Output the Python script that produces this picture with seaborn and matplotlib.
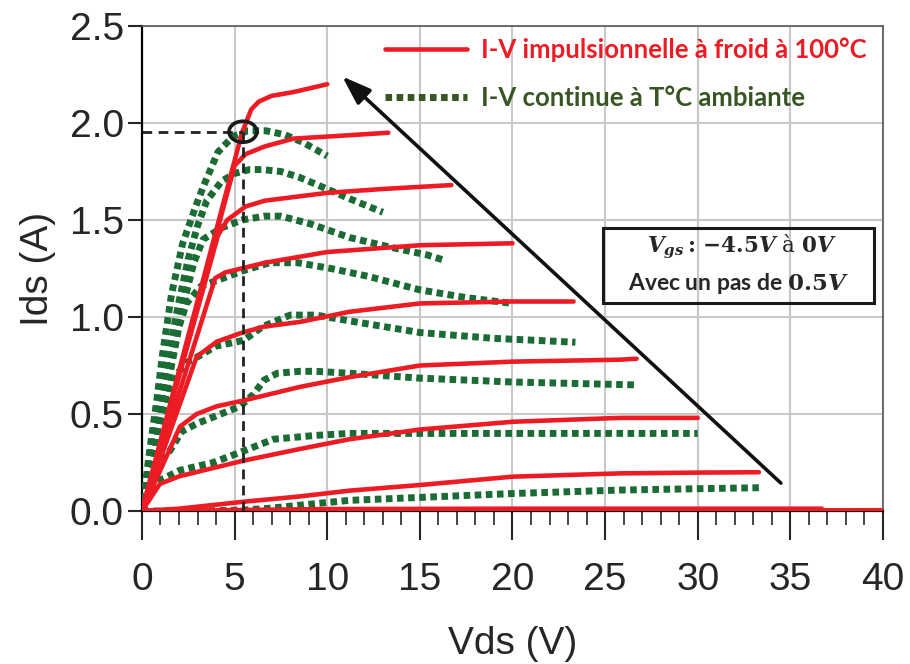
import pandas as pd
import matplotlib
matplotlib.use("Agg")
import matplotlib.pyplot as plt
import seaborn as sns
from matplotlib.lines import Line2D
from matplotlib.patches import Ellipse, Rectangle

# Vgs steps, from 0 V down to -4.5 V
vgs = [0.0, -0.5, -1.0, -1.5, -2.0, -2.5, -3.0, -3.5, -4.0, -4.5]

# pulsed I-V at 100 C (red, solid)
red_vds = [
	[0, 5.4, 5.9, 6.3, 7.0, 8.2, 10.0],
	[0, 5.0, 5.6, 6.65, 8.2, 10.0, 13.3],
	[0, 4.1, 4.6, 5.6, 6.65, 10.0, 13.0, 16.7],
	[0, 3.95, 4.5, 6.65, 10.0, 15.0, 20.0],
	[0, 2.95, 4.04, 5.3, 6.56, 8.54, 11.2, 15.0, 20.0, 23.3],
	[0, 2.05, 2.95, 4.04, 5.5, 8.54, 11.2, 15.0, 20.0, 25.8, 26.7],
	[0, 0.97, 2.05, 5.5, 8.54, 11.2, 15.0, 20.0, 25.8, 30.0],
	[0, 2.0, 5.5, 8.5, 11.2, 15.0, 20.0, 25.8, 30.0, 33.3],
	[0, 10.0, 20.0, 36.7],
	[0, 40.0],
]
red_ids = [
	[0, 1.95, 2.07, 2.11, 2.14, 2.16, 2.20],
	[0, 1.78, 1.84, 1.88, 1.92, 1.93, 1.95],
	[0, 1.42, 1.50, 1.57, 1.60, 1.64, 1.66, 1.68],
	[0, 1.20, 1.23, 1.28, 1.335, 1.37, 1.38],
	[0, 0.795, 0.873, 0.916, 0.95, 0.975, 1.027, 1.07, 1.08, 1.08],
	[0, 0.435, 0.50, 0.54, 0.57, 0.64, 0.69, 0.75, 0.77, 0.78, 0.785],
	[0, 0.14, 0.18, 0.26, 0.32, 0.37, 0.42, 0.46, 0.48, 0.48],
	[0, 0.012, 0.048, 0.075, 0.105, 0.134, 0.177, 0.194, 0.198, 0.20],
	[0, 0.01, 0.012, 0.012],
	[0, 0.004],
]

# DC I-V at ambient temperature (green, dotted)
green_vds = [
	[0, 0.4, 0.8, 1.1, 1.6, 2.2, 2.9, 3.3, 4.1, 4.9, 5.7, 6.7, 7.7, 8.7, 10.0],
	[0, 0.5, 1.0, 1.5, 2.0, 2.5, 3.0, 3.5, 4.3, 5.0, 5.8, 6.5, 7.5, 8.5, 9.5, 11.2, 13.0],
	[0, 0.6, 1.2, 1.7, 2.2, 2.8, 3.3, 4.3, 5.4, 6.6, 7.5, 9.1, 11.2, 13.4, 15.4, 16.4],
	[0, 0.6, 1.2, 1.7, 2.0, 2.4, 3.2, 4.1, 5.5, 6.9, 8.4, 10.2, 12.2, 15.0, 17.5, 20.0],
	[0, 0.5, 1.0, 1.5, 2.0, 2.5, 3.1, 4.0, 5.5, 6.5, 8.0, 9.4, 11.2, 15.0, 19.0, 23.4],
	[0, 0.4, 0.8, 1.5, 2.15, 2.95, 4.0, 5.3, 6.0, 6.6, 7.3, 8.5, 9.4, 11.2, 15.0, 20.0, 26.7],
	[0, 0.6, 1.0, 2.05, 3.85, 5.5, 7.1, 9.4, 11.2, 15.0, 20.0, 25.0, 30.0],
	[0, 3.0, 5.5, 7.0, 8.5, 11.2, 15.0, 20.0, 25.8, 30.0, 33.3],
	[0, 36.7],
	[0, 40.0],
]
green_ids = [
	[0, 0.30, 0.57, 0.80, 1.12, 1.38, 1.57, 1.67, 1.85, 1.93, 1.96, 1.96, 1.94, 1.90, 1.83],
	[0, 0.30, 0.58, 0.84, 1.08, 1.30, 1.47, 1.60, 1.70, 1.74, 1.76, 1.76, 1.75, 1.72, 1.68, 1.61, 1.54],
	[0, 0.30, 0.60, 0.83, 1.05, 1.28, 1.40, 1.46, 1.50, 1.52, 1.52, 1.48, 1.41, 1.36, 1.32, 1.29],
	[0, 0.28, 0.56, 0.80, 0.95, 1.07, 1.16, 1.19, 1.24, 1.28, 1.28, 1.25, 1.21, 1.14, 1.10, 1.07],
	[0, 0.25, 0.47, 0.62, 0.72, 0.77, 0.80, 0.85, 0.88, 0.95, 1.01, 1.01, 0.98, 0.92, 0.89, 0.87],
	[0, 0.15, 0.25, 0.31, 0.41, 0.45, 0.49, 0.54, 0.60, 0.675, 0.71, 0.72, 0.72, 0.71, 0.685, 0.665, 0.65],
	[0, 0.11, 0.16, 0.21, 0.25, 0.31, 0.37, 0.39, 0.40, 0.40, 0.40, 0.40, 0.40],
	[0, 0.0, 0.005, 0.015, 0.03, 0.055, 0.07, 0.09, 0.108, 0.115, 0.12],
	[0, 0.0],
	[0, 0.0],
]

# operating point marked on the chart
op_vds = 5.45
op_ids = 1.955

RED = "#ED1C24"
GREEN = "#1B6B35"
GREEN_TXT = "#375623"


def to_frame(vds_list, ids_list):
	rows = []
	for g, xs, ys in zip(vgs, vds_list, ids_list):
		for k, (x, y) in enumerate(zip(xs, ys)):
			rows.append({"vgs": g, "k": k, "vds": x, "ids": y})
	return pd.DataFrame(rows)


df_red = to_frame(red_vds, red_ids)
df_green = to_frame(green_vds, green_ids)

sns.set_style("white")
plt.rcParams["font.family"] = ["Liberation Sans", "DejaVu Sans"]
plt.rcParams["mathtext.fontset"] = "dejavuserif"

fig = plt.figure(figsize=(9.1, 6.64), dpi=100)
ax = fig.add_axes([0.156, 0.2304, 0.8143, 0.7304])

sns.lineplot(data=df_green, x="vds", y="ids", units="vgs", estimator=None, sort=False,
			 color=GREEN, lw=5, linestyle=(0, (0.95, 0.65)), legend=False, ax=ax, zorder=3)
sns.lineplot(data=df_red, x="vds", y="ids", units="vgs", estimator=None, sort=False,
			 color=RED, lw=3.3, legend=False, ax=ax, zorder=4)

# dashed guides to the marked point
ax.plot([0, op_vds], [op_ids, op_ids], color="#222222", lw=2, ls=(0, (3.5, 2.3)), zorder=6)
ax.plot([op_vds, op_vds], [0, op_ids], color="#222222", lw=2, ls=(0, (3.5, 2.3)), zorder=6)
ax.add_patch(Ellipse((op_vds, op_ids), 1.5, 0.108, fill=False, ec="#1a1a1a", lw=2.6, zorder=7))

# arrow showing Vgs increase
ax.annotate("", xy=(10.7, 2.25), xytext=(34.6, 0.134),
			arrowprops=dict(arrowstyle="-|>,head_length=0.8,head_width=0.28",
							mutation_scale=22, color="#111111", lw=2.6), zorder=8)

# Vgs info box
ax.add_patch(Rectangle((24.9, 1.07), 14.6, 0.39, fill=False, ec="#1a1a1a", lw=2.2, zorder=8))
ax.text(32.4, 1.36, r"$\mathbfit{V_{gs}}\mathbf{:}\,\mathbf{-4.5}\mathbfit{V}$ à $\mathbf{0}\mathbfit{V}$",
		ha="center", va="center", fontsize=15.5, family=["DejaVu Serif"], zorder=9)
ax.text(32.2, 1.172, r"Avec un pas de $\mathbf{0.5}\mathbfit{V}$",
		ha="center", va="center", fontsize=16.5, fontweight="bold", family=["Lato", "DejaVu Sans"], zorder=9)

ax.set_xlim(0, 40)
ax.set_ylim(0, 2.5)
ax.set_xticks(range(0, 41, 5))
ax.set_xticks(range(0, 41, 1), minor=True)
ax.set_yticks([0, 0.5, 1.0, 1.5, 2.0, 2.5])
ax.set_yticklabels(["0.0", "0.5", "1.0", "1.5", "2.0", "2.5"])
ax.grid(True, which="major", color="#c8c8c8", lw=1.5)
ax.set_axisbelow(True)

ax.tick_params(axis="x", which="major", direction="out", length=21, width=1.5, pad=16, labelsize=28)
ax.tick_params(axis="x", which="minor", direction="out", length=10, width=1.2)
ax.tick_params(axis="y", which="major", direction="out", length=10, width=1.5, pad=3, labelsize=28)
ax.tick_params(bottom=True, left=True, which="both")
ax.tick_params(axis="y", which="minor", left=False)

for s in ["left", "bottom"]:
	ax.spines[s].set_color("black")
	ax.spines[s].set_linewidth(1.6)
for s in ["top", "right"]:
	ax.spines[s].set_color("#555555")
	ax.spines[s].set_linewidth(1.2)

ax.set_xlabel("Vds (V)", fontsize=28, labelpad=20)
ax.set_ylabel("Ids (A)", fontsize=28, labelpad=10)

handles = [Line2D([], [], color=RED, lw=3.3),
		   Line2D([], [], color=GREEN_TXT, lw=5, ls=(0, (0.95, 0.65)))]
labels = ["I-V impulsionnelle à froid à 100°C", "I-V continue à T°C ambiante"]
leg = ax.legend(handles, labels, loc="upper left", bbox_to_anchor=(0.328, 0.977),
				frameon=False, borderpad=0, borderaxespad=0, handlelength=3.2,
				handletextpad=0.55, labelspacing=0.94,
				prop={"family": "Lato", "weight": "bold", "size": 18.5})
leg.get_texts()[0].set_color(RED)
leg.get_texts()[1].set_color(GREEN_TXT)

fig.savefig("out.png", dpi=100)
